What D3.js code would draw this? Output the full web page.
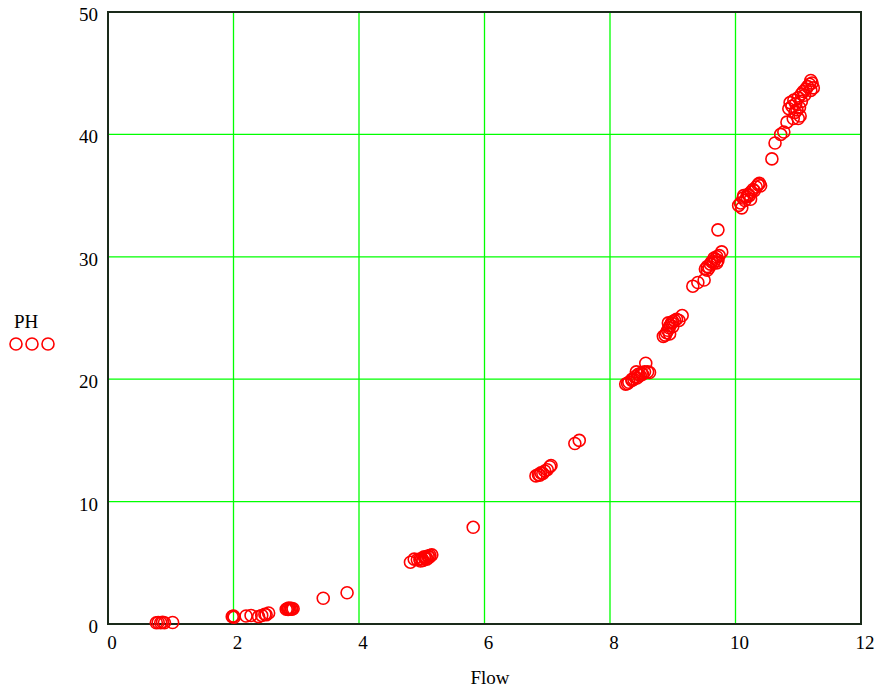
<!DOCTYPE html>
<html>
<head>
<meta charset="utf-8">
<script src="https://cdn.jsdelivr.net/npm/d3@7"></script>
<style>
  html, body { margin: 0; padding: 0; background: #fff; }
</style>
</head>
<body>
<svg id="chart" width="876" height="690"></svg>
<script>
// ---- data ----
const flow = [
  0.77,0.80,0.84,0.87,0.90,1.03,
  1.98,2.00,2.01,2.20,2.28,2.40,2.45,2.50,2.56,2.52,
  2.84,2.86,2.88,2.90,2.92,2.95,2.87,2.93,
  3.43,3.81,
  4.82,4.88,4.93,4.97,5.00,5.02,5.05,5.07,5.10,5.13,5.16,4.98,5.04,5.08,5.12,
  5.82,
  6.82,6.86,6.90,6.93,6.96,7.00,7.04,7.06,6.88,
  7.44,7.51,
  8.25,8.28,8.30,8.35,8.38,8.40,8.43,8.45,8.48,8.50,8.55,8.60,8.63,8.42,8.57,8.52,8.35,
  8.85,8.88,8.90,8.92,8.94,8.96,8.98,9.00,9.03,9.06,9.10,9.15,8.95,9.00,8.93,
  9.32,9.40,9.50,
  9.52,9.55,9.58,9.60,9.62,9.65,9.68,9.70,9.72,9.74,9.78,9.55,9.66,9.70,
  9.72,
  10.05,10.08,10.10,10.12,10.15,10.18,10.20,10.22,10.25,10.28,10.30,10.33,10.36,10.38,10.40,10.13,10.24,
  10.58,10.63,10.72,10.77,10.82,10.92,11.00,11.03,10.95,
  10.85,10.87,10.90,10.93,10.96,11.00,11.02,11.05,11.08,11.10,11.12,11.15,11.18,11.20,11.22,11.24,11.20,10.98,11.05
];
const ph = [
  0.10,0.12,0.10,0.14,0.10,0.12,
  0.60,0.65,0.55,0.65,0.70,0.60,0.70,0.80,0.90,0.75,
  1.20,1.25,1.30,1.22,1.28,1.25,1.18,1.20,
  2.10,2.55,
  5.05,5.30,5.25,5.30,5.35,5.20,5.40,5.45,5.55,5.60,5.65,5.15,5.50,5.30,5.45,
  7.90,
  12.10,12.20,12.35,12.30,12.50,12.60,12.85,12.95,12.15,
  14.75,15.00,
  19.60,19.65,19.75,19.90,20.00,20.20,20.10,20.40,20.30,20.50,20.60,20.60,20.55,20.60,21.30,20.40,20.00,
  23.50,23.60,23.80,24.00,24.20,24.40,24.60,24.70,24.80,24.90,24.80,25.20,23.70,24.30,24.60,
  27.60,27.90,28.10,
  29.00,29.20,29.10,29.40,29.60,29.50,29.80,30.00,29.70,30.10,30.40,28.90,29.90,29.50,
  32.20,
  34.20,34.40,34.00,34.80,34.60,34.90,35.10,35.00,35.30,35.50,35.40,35.70,35.90,36.00,35.80,35.00,34.70,
  38.00,39.30,40.00,40.20,41.00,41.30,41.30,41.50,41.80,
  42.10,42.60,42.30,42.80,42.50,43.00,42.20,43.30,43.50,43.20,43.70,43.90,44.10,44.40,44.20,43.80,43.60,42.00,42.70
];
const xTicks = [0, 2, 4, 6, 8, 10, 12];
const yTicks = [0, 10, 20, 30, 40, 50];
const xLabel = "Flow";
const seriesName = "PH";

// ---- layout ----
const FONT = "'Liberation Serif', 'Times New Roman', serif";
const svg = d3.select("#chart");
const pL = 108, pR = 861, pT = 12, pB = 624;
const x = d3.scaleLinear().domain([0, 12]).range([pL, pR]);
const y = d3.scaleLinear().domain([0, 50]).range([pB, pT]);
const green = "#00ff00";
const red = "#ff0000";

// grid
svg.append("g").selectAll("line").data(xTicks.filter(d => d > 0 && d < 12)).join("line")
  .attr("x1", d => x(d)).attr("x2", d => x(d)).attr("y1", pT).attr("y2", pB)
  .attr("stroke", green).attr("stroke-width", 1.3);
svg.append("g").selectAll("line").data(yTicks.filter(d => d > 0 && d < 50)).join("line")
  .attr("y1", d => y(d)).attr("y2", d => y(d)).attr("x1", pL).attr("x2", pR)
  .attr("stroke", green).attr("stroke-width", 1.3);

// frame
svg.append("rect").attr("x", pL).attr("y", pT).attr("width", pR - pL).attr("height", pB - pT)
  .attr("fill", "none").attr("stroke", "#1a2a1a").attr("stroke-width", 2);

// tick labels
svg.append("g").selectAll("text").data(xTicks).join("text")
  .attr("x", d => x(d) + 4).attr("y", 649).attr("text-anchor", "middle")
  .attr("font-family", FONT).attr("font-size", 19).text(d => d);
svg.append("g").selectAll("text").data(yTicks).join("text")
  .attr("x", 98).attr("y", d => y(d) + 9).attr("text-anchor", "end")
  .attr("font-family", FONT).attr("font-size", 19).text(d => d);

// axis label
svg.append("text").attr("x", 490).attr("y", 684).attr("text-anchor", "middle")
  .attr("font-family", FONT).attr("font-size", 19).text(xLabel);

// legend
svg.append("text").attr("x", 14).attr("y", 328)
  .attr("font-family", FONT).attr("font-size", 19).text(seriesName);
svg.append("g").selectAll("circle").data([16, 32, 48]).join("circle")
  .attr("cx", d => d).attr("cy", 344).attr("r", 6)
  .attr("fill", "none").attr("stroke", red).attr("stroke-width", 1.6);

// points
const pts = flow.map((f, i) => ({ f, p: ph[i] }));
svg.append("g").selectAll("circle").data(pts).join("circle")
  .attr("cx", d => x(d.f)).attr("cy", d => y(d.p)).attr("r", 6)
  .attr("fill", "none").attr("stroke", red).attr("stroke-width", 1.6);
</script>
</body>
</html>
